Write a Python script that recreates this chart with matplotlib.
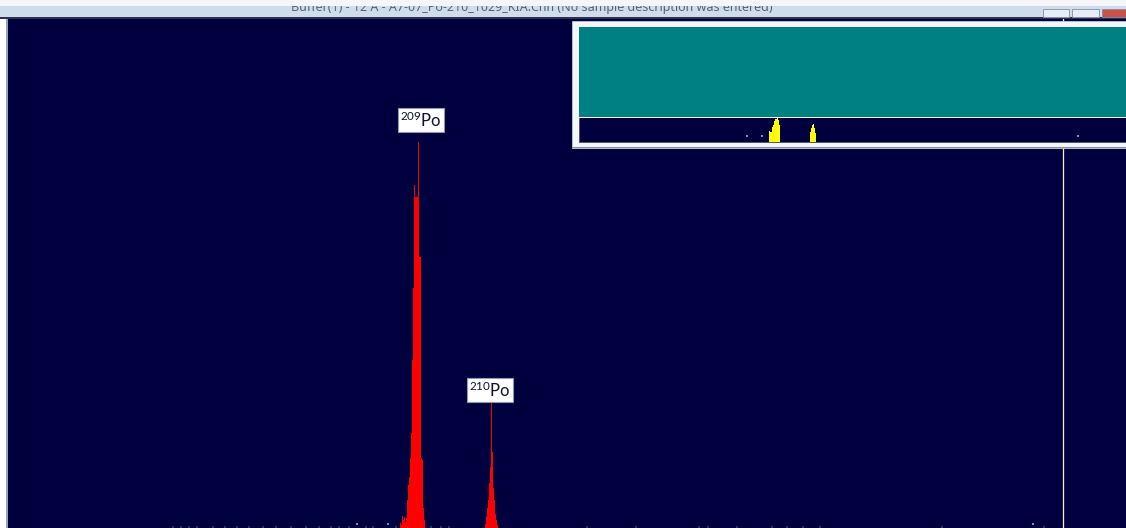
import numpy as np
import matplotlib
matplotlib.use("Agg")
import matplotlib.pyplot as plt
import matplotlib.patches as mpatches

W, H = 1126, 528

# ── spectrum data (channel, counts) ──────────────────────────────────────────
PO209_CH = list(range(392, 417))
PO209_COUNTS = [5, 3, 12, 8, 11, 6, 10, 28, 43, 51, 70, 95, 168, 240,
                343, 331, 331, 331, 386, 271, 271, 70, 68, 20, 8]

PO210_CH = list(range(477, 490))
PO210_COUNTS = [4, 11, 20, 28, 45, 61, 125, 76, 40, 28, 14, 8, 3]

# isolated single counts outside the ROIs
FAINT_CH = [164, 172, 180, 188, 204, 216, 228, 240, 254, 267, 282, 297, 310,
            322, 330, 340, 357, 364, 387, 422, 432, 440, 578, 627, 690, 699,
            728, 763, 778, 794, 811, 933, 1035]
FAINT_COUNTS = [1] * len(FAINT_CH)
BRIGHT_CH = [348, 379, 1024]
BRIGHT_COUNTS = [4, 4, 4]

LABELS = ["$^{209}$Po", "$^{210}$Po"]
LABEL_CH = [413, 482]
LABEL_Y = [408, 138]

CURSOR_CH = 1054
TITLE = "Buffer(1) - 12 A - A7-07_Po-210_1029_KIA.Chn (No sample description was entered)"

NAVY = "#00003f"

plt.rcParams["font.family"] = ["Lato", "DejaVu Sans"]
plt.rcParams["mathtext.default"] = "regular"

fig = plt.figure(figsize=(W / 100, H / 100), dpi=100)
fig.patch.set_facecolor("white")

# ── main spectrum window ─────────────────────────────────────────────────────
ax = fig.add_axes([8 / W, 0, (W - 8) / W, (H - 19) / H])
ax.set_facecolor(NAVY)
ax.set_xlim(0, W - 8)
ax.set_ylim(0, H - 19)
ax.set_xticks([])
ax.set_yticks([])
for s in ax.spines.values():
    s.set_visible(False)

ax.bar(PO209_CH, PO209_COUNTS, width=1.0, align="edge", color="#ff0000", linewidth=0)
ax.bar(PO210_CH, PO210_COUNTS, width=1.0, align="edge", color="#ff0000", linewidth=0)
ax.scatter(np.array(FAINT_CH) + 0.5, FAINT_COUNTS, marker="s", s=1.0,
           color="#1a3a6e", linewidths=0)
ax.scatter(np.array(BRIGHT_CH) + 0.5, BRIGHT_COUNTS, marker="s", s=2,
           color="#00c8d0", linewidths=0)
ax.axvline(CURSOR_CH + 0.5, color="#f8f4c0", lw=0.9)

for lab, cx, cy in zip(LABELS, LABEL_CH, LABEL_Y):
    ax.text(cx, cy, lab, ha="center", va="center", fontsize=12, color="#0c1430",
            bbox=dict(boxstyle="square,pad=0.12", facecolor="white",
                      edgecolor="#9098b0", linewidth=0.8))

# ── window chrome + overview frame (pixel coords) ────────────────────────────
ov = fig.add_axes([0, 0, 1, 1], zorder=5)
ov.set_xlim(0, W)
ov.set_ylim(H, 0)
ov.axis("off")
ov.patch.set_visible(False)

def rect(x0, y0, x1, y1, **kw):
    p = mpatches.Rectangle((x0, y0), x1 - x0, y1 - y0, **kw)
    ov.add_patch(p)
    return p

rect(0, 0, W, 17, facecolor="#d0dcec", linewidth=0)
# title text is half hidden behind the top edge of the screenshot
ov.text(532, 7.5, TITLE, ha="center", va="center", fontsize=9,
        color="#5a6272", family=["Noto Sans", "DejaVu Sans"], zorder=3)
rect(0, 0, W, 5.5, facecolor="#f4f6fa", linewidth=0, zorder=4)
rect(0, 17, W, 19, facecolor="#2a3350", linewidth=0)
rect(0, 19, 6, H, facecolor="white", linewidth=0)
rect(6, 19, 8, H, facecolor="#9aa4b0", linewidth=0)

for x0, x1, fc in [(1043, 1069, "#e6edf6"), (1072, 1099, "#e6edf6"), (1102, 1130, "#c8524a")]:
    rect(x0, 9, x1, 17, facecolor=fc, edgecolor="#8090a4", linewidth=0.6, zorder=5)

# overview panel
rect(572, 21, W + 5, 148, facecolor="#f3f6fb", edgecolor="#c0c8d4", linewidth=0.6)
rect(572, 146.8, W + 5, 148.2, facecolor="#8c8c8c", linewidth=0)
rect(578.5, 27.3, W + 5, 116.7, facecolor="#008080", linewidth=0)
rect(578.6, 117.9, W + 5, 142.2, facecolor=NAVY, edgecolor="#50587a", linewidth=0.7)

ins = fig.add_axes([579.6 / W, (H - 141.7) / H, (W - 579.6) / W, (141.7 - 118.2) / H],
                   zorder=6)
ins.set_facecolor(NAVY)
ins.set_yscale("log")
ins.set_xlim(6.1, 1122)
ins.set_ylim(0.8, 400)
ins.set_xticks([])
ins.set_yticks([])
ins.minorticks_off()
for s in ins.spines.values():
    s.set_visible(False)
ins.fill_between(PO209_CH, 0.8, PO209_COUNTS, step="mid", color="#ffff00", linewidth=0)
ins.fill_between(PO210_CH, 0.8, PO210_COUNTS, step="mid", color="#ffff00", linewidth=0)
ins.scatter(BRIGHT_CH, BRIGHT_COUNTS, marker="s", s=1, color="#8c8cc8", linewidths=0)

fig.savefig("out.png", dpi=100)
